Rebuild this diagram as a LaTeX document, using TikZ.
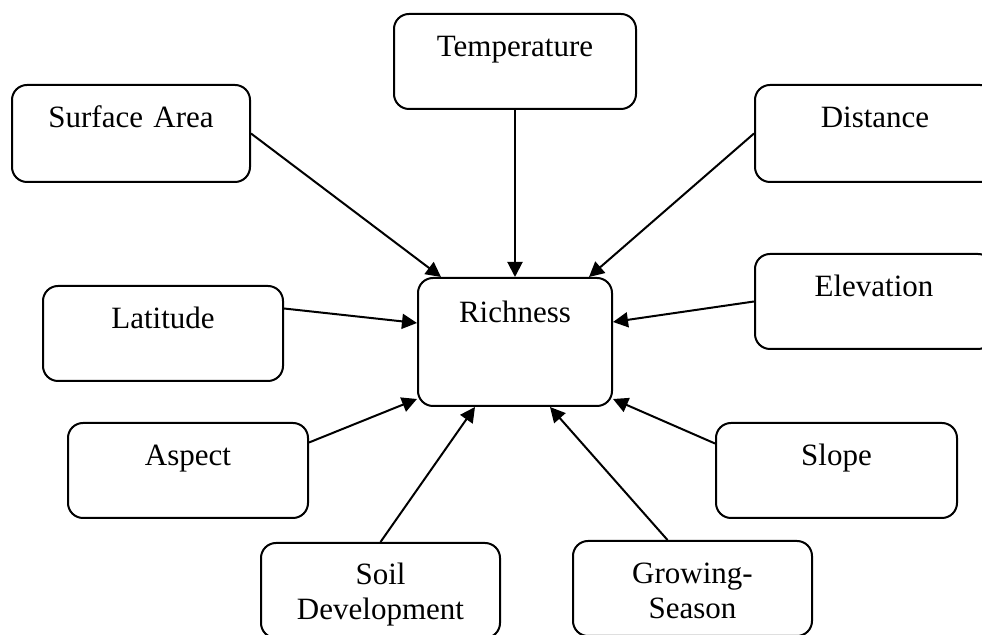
\documentclass[tikz,border=0pt]{standalone}
\usepackage{fontspec}
\setmainfont{Liberation Serif}
\usetikzlibrary{arrows.meta, calc, positioning}
\tikzstyle{factor} = [rectangle, rounded corners=7.5pt, line width=1pt, draw=black, inner sep=0pt, align=center, anchor=north, text height=21.5pt, font=\fontsize{15.5}{17.5}\selectfont]
\tikzstyle{arrow} = [line width=1pt, -{Triangle[length=7.5pt, width=7.5pt]}]
\begin{document}
\begin{tikzpicture}[x=0.5pt, y=-0.5pt]
		\useasboundingbox (0,0) rectangle (982,635);
		\node (Richness) [factor, text width=97pt, text height=22.5pt, text depth=41.5pt] at (515,277) {Richness};
		\node (Temperature) [factor, text width=121pt, text depth=26pt] at (515,13) {Temperature};
		\node (SurfaceArea) [factor, text width=119pt, text depth=27pt] at (131,84) {Surface Area};
		\node (Distance) [factor, text width=120pt, text depth=27pt] at (875,84) {Distance};
		\node (Latitude) [factor, text width=120pt, text depth=26pt] at (163,285) {Latitude};
		\node (Elevation) [factor, text width=119pt, text depth=26pt] at (874,253) {Elevation};
		\node (Aspect) [factor, text width=120pt, text depth=26pt] at (188,422) {Aspect};
		\node (Slope) [factor, text width=120.5pt, text depth=26pt] at (836.5,422) {Slope};
		\node (SoilDevelopment) [factor, text width=119.5pt, text height=21pt, text depth=26.5pt] at (380.5,542) {Soil\\Development};
		\node (GrowingSeason) [factor, text width=119.5pt, text height=21.5pt, text depth=26pt] at (692.5,540) {Growing-\\Season};
		\draw [arrow] (SurfaceArea.east) -- ($(Richness.north west)+(24,0)$);
		\draw [arrow] (Temperature.south) -- (Richness.north);
		\draw [arrow] (Distance.west) -- ($(Richness.north east)+(-24,0)$);
		\draw [arrow] ($(Latitude.east)+(0,-25)$) -- ($(Richness.north west)+(0,46)$);
		\draw [arrow] (Elevation.west) -- ($(Richness.north east)+(0,45)$);
		\draw [arrow] ($(Aspect.east)+(0,-28)$) -- ($(Richness.south west)+(0,-8)$);
		\draw [arrow] ($(Slope.west)+(0,-27)$) -- ($(Richness.south east)+(0,-8)$);
		\draw [arrow] (SoilDevelopment.north) -- ($(Richness.south)+(-40,0)$);
		\draw [arrow] ($(GrowingSeason.north)+(-25,0)$) -- ($(Richness.south)+(35,0)$);
\end{tikzpicture}
\end{document}
